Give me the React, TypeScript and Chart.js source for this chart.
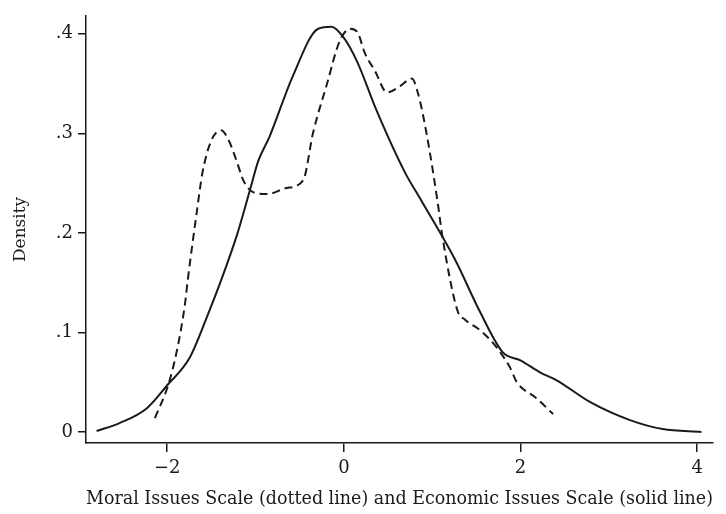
import React, { useEffect, useRef } from "react";
import { Chart, registerables } from "chart.js";

Chart.register(...registerables);

const economicX = [-2.8, -2.54, -2.23, -2.0, -1.75, -1.54, -1.40, -1.21, -1.06, -0.97, -0.84, -0.58, -0.29, -0.14, -0.01, 0.15, 0.37, 0.69, 0.88, 1.26, 1.54, 1.80, 2.0, 2.22, 2.41, 2.79, 3.24, 3.61, 4.05];
const economicY = [0.001, 0.009, 0.024, 0.047, 0.074, 0.118, 0.15, 0.198, 0.244, 0.272, 0.297, 0.357, 0.405, 0.407, 0.397, 0.372, 0.323, 0.261, 0.232, 0.173, 0.121, 0.080, 0.072, 0.060, 0.052, 0.030, 0.012, 0.003, 0.0];

const moralX = [-2.14, -1.99, -1.89, -1.80, -1.77, -1.67, -1.60, -1.50, -1.39, -1.31, -1.21, -1.14, -1.03, -0.87, -0.65, -0.46, -0.35, -0.19, -0.05, 0.07, 0.15, 0.24, 0.35, 0.49, 0.63, 0.77, 0.84, 0.94, 1.06, 1.12, 1.29, 1.37, 1.56, 1.73, 1.88, 1.96, 2.18, 2.37];
const moralY = [0.014, 0.047, 0.082, 0.128, 0.151, 0.218, 0.261, 0.293, 0.303, 0.294, 0.271, 0.253, 0.241, 0.239, 0.245, 0.253, 0.300, 0.350, 0.392, 0.405, 0.402, 0.380, 0.363, 0.341, 0.347, 0.355, 0.340, 0.298, 0.232, 0.194, 0.121, 0.113, 0.101, 0.085, 0.065, 0.050, 0.034, 0.018];

const xTicks = [-2, 0, 2, 4];
const xTickLabels = ["\u22122", "0", "2", "4"];
const yTicks = [0, 0.1, 0.2, 0.3, 0.4];
const yTickLabels = ["0", ".1", ".2", ".3", ".4"];

const xTitle = "Moral Issues Scale (dotted line) and Economic Issues Scale (solid line)";
const yTitle = "Density";

const INK = "#1a1a1a";
const FONT = "'DejaVu Serif', serif";

export default function App() {
  const ref = useRef<HTMLCanvasElement | null>(null);
  useEffect(() => {
    document.body.style.margin = "0";
    const ctx = ref.current!.getContext("2d")!;
    const chart = new Chart(ctx, {
      type: "line",
      data: {
        datasets: [
          {
            label: "Economic",
            data: economicX.map((x, i) => ({ x, y: economicY[i] })),
            borderColor: INK,
            borderWidth: 2,
            pointRadius: 0,
            cubicInterpolationMode: "monotone",
            fill: false,
          },
          {
            label: "Moral",
            data: moralX.map((x, i) => ({ x, y: moralY[i] })),
            borderColor: INK,
            borderWidth: 2,
            borderDash: [8, 5],
            pointRadius: 0,
            cubicInterpolationMode: "monotone",
            fill: false,
          },
        ],
      },
      options: {
        animation: false,
        responsive: false,
        maintainAspectRatio: false,
        layout: { padding: { top: 12, right: 13, left: 0, bottom: 0 } },
        plugins: { legend: { display: false }, tooltip: { enabled: false } },
        scales: {
          x: {
            type: "linear",
            min: -2.92,
            max: 4.18,
            afterBuildTicks: (s: any) => {
              s.ticks = xTicks.map((v) => ({ value: v }));
            },
            afterFit: (s: any) => {
              s.height = 71;
            },
            ticks: {
              color: INK,
              font: { family: FONT, size: 18 },
              padding: 6,
              maxRotation: 0,
              callback: (v: any) => xTickLabels[xTicks.indexOf(Number(v))] ?? "",
            },
            grid: { drawOnChartArea: false, drawTicks: true, tickLength: 9, color: INK, lineWidth: 1.5 },
            border: { display: true, color: INK, width: 1.5 },
            title: {
              display: true,
              text: xTitle,
              color: INK,
              font: { family: FONT, size: 18.7 },
              padding: { top: 8, bottom: 4 },
            },
          },
          y: {
            type: "linear",
            min: -0.011,
            max: 0.418,
            afterBuildTicks: (s: any) => {
              s.ticks = yTicks.map((v) => ({ value: v }));
            },
            afterFit: (s: any) => {
              s.width = 86;
            },
            ticks: {
              color: INK,
              font: { family: FONT, size: 18 },
              padding: 5,
              callback: (v: any) => {
                const i = yTicks.findIndex((t) => Math.abs(t - Number(v)) < 1e-6);
                return i >= 0 ? yTickLabels[i] : "";
              },
            },
            grid: { drawOnChartArea: false, drawTicks: true, tickLength: 8, color: INK, lineWidth: 1.5 },
            border: { display: true, color: INK, width: 1.5 },
            title: {
              display: true,
              text: yTitle,
              color: INK,
              font: { family: FONT, size: 17 },
              padding: { top: 10, bottom: 0 },
            },
          },
        },
      },
    });
    return () => chart.destroy();
  }, []);
  return (
    <div style={{ position: "fixed", left: 0, top: 0, width: 726, height: 514, background: "#fff" }}>
      <canvas ref={ref} width={726} height={514} style={{ width: 726, height: 514 }} />
    </div>
  );
}
